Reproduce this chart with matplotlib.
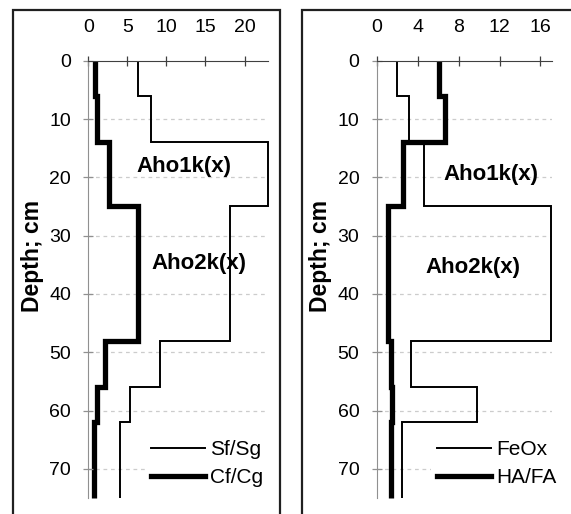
import numpy as np
import matplotlib.pyplot as plt
from matplotlib.patches import Rectangle

plt.rcParams['font.family'] = ['Liberation Sans', 'DejaVu Sans']

# layer boundaries, cm
depth_edges = [0, 6, 14, 25, 48, 56, 62, 75]

# left panel
sf_sg = [6.4, 8.0, 23.0, 18.1, 9.2, 5.3, 4.05]
cf_cg = [0.85, 1.15, 2.7, 6.4, 2.1, 1.07, 0.77]
left_xticks = [0, 5, 10, 15, 20]

# right panel
feox = [1.96, 3.16, 4.66, 17.0, 3.33, 9.79, 2.45]
ha_fa = [6.04, 6.69, 2.6, 1.14, 1.40, 1.46, 1.40]
right_xticks = [0, 4, 8, 12, 16]

depth_ticks = [0, 10, 20, 30, 40, 50, 60, 70]

W, H = 571, 514
fig = plt.figure(figsize=(W / 100, H / 100), dpi=100)


def px_box(x0, x1, y_top, y_bot):
    return [x0 / W, (H - y_bot) / H, (x1 - x0) / W, (y_bot - y_top) / H]


def setup(ax, xmax, xticks, thin, thick, names, leg_anchor, labels, ylab_x):
    ax.set_ylim(75, 0)
    ax.set_xlim(0, xmax)
    ax.set_yticks(depth_ticks)
    ax.set_xticks(xticks)
    ax.xaxis.tick_top()
    for t in depth_ticks[1:]:
        ax.axhline(t, color='#cccccc', lw=0.9, ls=(0, (3, 3)), zorder=0)
    ax.stairs(thin, depth_edges, orientation='horizontal', baseline=None,
              color='black', lw=1.4, label=names[0], clip_on=False)
    ax.stairs(thick, depth_edges, orientation='horizontal', baseline=None,
              color='black', lw=3.8, label=names[1], clip_on=False)
    for s in ['right', 'bottom']:
        ax.spines[s].set_visible(False)
    ax.spines['top'].set_color('#404040')
    ax.spines['left'].set_color('#909090')
    ax.tick_params(axis='x', direction='inout', length=7, width=0.9,
                   color='#404040', pad=14, labelsize=14)
    ax.tick_params(axis='y', direction='inout', length=7, width=0.9,
                   color='#909090', pad=9, labelsize=14)
    ax.set_ylabel('Depth; cm', fontsize=16.5, fontweight='bold')
    ax.yaxis.set_label_coords(ylab_x, 0.554)
    for txt, x, y in labels:
        ax.text(x, y, txt, ha='center', va='center', fontsize=16,
                fontweight='bold')
    leg = ax.legend(loc='lower left', bbox_to_anchor=leg_anchor,
                    fontsize=15, handlelength=2.6, handletextpad=0.25,
                    labelspacing=0.45, borderpad=0.3, borderaxespad=0,
                    frameon=True, fancybox=False, framealpha=1)
    leg.get_frame().set_edgecolor('none')
    leg.get_frame().set_facecolor('white')


ax1 = fig.add_axes(px_box(88.3, 268, 60.7, 498))
setup(ax1, 23, left_xticks, sf_sg, cf_cg, ['Sf/Sg', 'Cf/Cg'], (0.313, 0.01),
      [('Aho1k(x)', 12.3, 18.2), ('Aho2k(x)', 14.2, 34.8)], -0.245)

ax2 = fig.add_axes(px_box(376.7, 551.7, 60.7, 498))
setup(ax2, 17.1, right_xticks, feox, ha_fa, ['FeOx', 'HA/FA'], (0.31, 0.01),
      [('Aho1k(x)', 11.2, 19.6), ('Aho2k(x)', 9.4, 35.4)], -0.256)

# panel frames
fig.add_artist(Rectangle((12.7 / W, -0.1), (280 - 12.7) / W, 1.1 - 10.5 / H,
                         transform=fig.transFigure, fill=False, lw=1.6,
                         ec='#202020'))
fig.add_artist(Rectangle((302.3 / W, -0.1), 0.6, 1.1 - 10.5 / H,
                         transform=fig.transFigure, fill=False, lw=1.6,
                         ec='#202020'))

fig.savefig('out.png', dpi=100)
